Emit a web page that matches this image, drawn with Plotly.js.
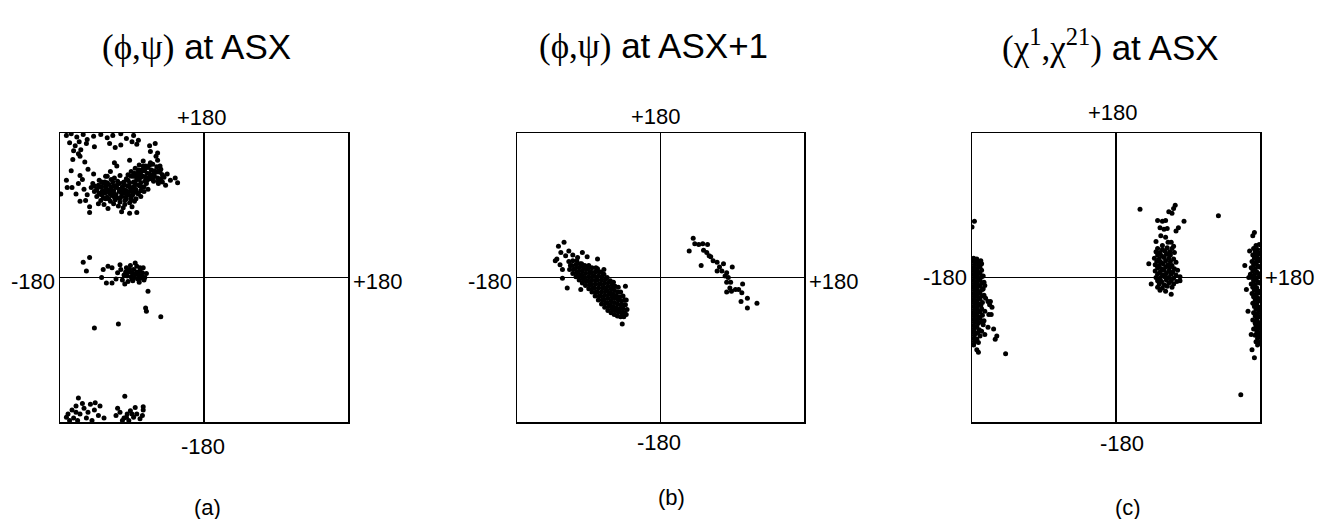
<!DOCTYPE html>
<html>
<head>
<meta charset="utf-8">
<script src="https://cdn.plot.ly/plotly-3.0.1.min.js"></script>
<style>html,body{margin:0;padding:0;background:#fff;}#chart{width:1325px;height:519px;}</style>
</head>
<body>
<div id="chart"></div>
<script>
// Panel (a): (phi, psi) at ASX
const panelA = [
[-172,177],[-166,179],[-159,175],[-151,178],[-146,172],[-138,176],[-129,178],[-121,174],[-114,177],[-104,179],[-97,173],[-88,177],[-82,171],[-84,166],
[-168,168],[-161,164],[-156,169],[-147,167],[-137,163],[-118,167],[-111,162],[-104,165],[-90,169],[-68,164],[-61,167],
[-163,158],[-157,154],[-154,159],[-67,157],[-60,151],[-58,155],
[-164,147],[-155,151],[-149,144],[-112,143],[-109,139],[-93,146],[-73,139],
[-166,133],[-155,127],[-145,135],[-138,129],[-123,126],[-117,132],[-172,121],[-179,104],[-171,112],
[-121,126],[-112,124],[-105,127],[-97,123],[-91,126],[-84,122],[-79,125],
[-131,121],[-124,119],[-116,122],[-108,120],[-101,118],[-95,121],[-88,119],[-81,122],[-74,120],[-68,123],
[-139,117],[-132,115],[-126,118],[-119,116],[-113,114],[-106,117],[-99,115],[-93,113],[-86,116],[-80,114],[-72,117],
[-141,112],[-134,110],[-128,113],[-122,111],[-116,109],[-110,112],[-103,110],[-97,108],[-91,111],[-85,109],[-78,112],[-70,110],
[-137,107],[-131,105],[-125,108],[-119,106],[-112,104],[-106,107],[-100,105],[-94,103],[-88,106],[-82,104],[-75,107],
[-134,101],[-128,103],[-121,100],[-115,102],[-109,99],[-103,101],[-97,98],[-91,100],[-85,98],[-79,101],
[-129,96],[-123,98],[-117,95],[-111,97],[-105,94],[-99,96],[-93,93],[-87,95],
[-125,91],[-113,92],[-107,89],[-99,91],
[-128,119],[-121,118],[-114,119],[-107,118],[-100,119],[-93,118],[-86,119],[-79,118],
[-137,114],[-130,113],[-123,114],[-116,113],[-109,115],[-102,113],[-95,114],[-88,113],[-82,115],[-75,113],
[-134,109],[-127,108],[-120,109],[-113,108],[-106,110],[-99,109],[-92,108],[-86,110],[-79,108],
[-131,104],[-124,105],[-117,104],[-110,103],[-103,105],[-96,104],[-89,103],[-83,105],
[-126,99],[-119,98],[-112,100],[-105,99],[-98,100],[-91,97],
[-76,145],[-67,143],[-58,146],
[-81,140],[-72,138],[-64,141],[-55,139],
[-86,136],[-78,134],[-70,137],[-62,133],[-54,135],
[-91,132],[-83,130],[-75,133],[-68,129],[-60,131],[-52,128],
[-95,128],[-88,126],[-80,128],[-73,125],[-66,127],[-58,124],[-50,125],
[-76,139],[-68,140],[-59,138],
[-82,134],[-74,135],[-66,134],[-57,133],
[-87,130],[-79,131],[-71,130],[-63,129],[-55,131],
[-84,125],[-76,126],[-69,124],[-62,126],[-54,123],
[-71,121],[-64,122],[-57,120],[-52,119],
[-63,120],[-57,117],
[-46,129],[-42,121],[-36,124],[-33,118],[-48,115],
[-150,110],[-157,117],[-146,103],[-160,104],[-152,122],[-165,112],[-148,96],
[-155,95],[-143,88],[-132,92],[-103,82],[-101,87],[-93,80],[-84,81],[-143,81],[-120,86],[-90,88],
[-151,19],[-143,25],[-147,8],[-126,10],[-120,14],[-128,0],[-122,-7],[-115,12],
[-108,6],[-104,10],[-100,3],[-97,12],[-94,7],[-91,1],[-88,10],[-86,4],[-83,-2],[-80,8],[-78,2],[-76,12],
[-102,-3],[-95,-5],[-89,-4],[-84,14],[-92,15],[-81,-6],[-110,-2],[-99,-8],[-75,-3],[-72,5],[-105,16],[-86,18],
[-96,2],[-90,6],[-82,3],[-79,-1],[-93,10],[-87,0],[-84,7],[-80,12],[-77,6],[-98,7],[-74,0],[-90,-2],
[-70,-17],[-72,-42],[-73,-38],[-54,-49],[-137,-63],[-107,-58],[-115,-7],
[-170,-170],[-165,-165],[-160,-160],[-157,-150],[-163,-175],[-155,-170],[-150,-163],[-147,-175],[-142,-158],[-137,-165],
[-130,-160],[-132,-172],[-168,-178],[-158,-178],[-152,-157],[-145,-168],[-160,-168],[-140,-178],[-136,-156],[-172,-174],[-125,-175],
[-110,-172],[-105,-168],[-100,-175],[-96,-170],[-92,-166],[-88,-174],[-84,-170],[-80,-176],[-76,-165],[-94,-178],
[-102,-178],[-86,-162],[-108,-163],[-99,-148],[-76,-161],[-77,-172],[-90,-170],[-97,-174]
];

// Panel (b): (phi, psi) at ASX+1
const panelB = [
[-128,39],[-121,44],[-115,33],[-130,23],[-132,21],[-125,31],[-98,31],[-92,26],[-79,23],[-123,10],[-123,-1],
[-117,-13],[-100,-15],[-71,10],[-44,-11],[-48,-58],[-119,27],[-126,16],[-110,28],[-104,25],
[-114,10],[-113,15],[-115,20],
[-110,5],[-109,10],[-111,15],[-110,21],
[-106,1],[-105,6],[-107,11],[-106,16],[-105,21],
[-102,-3],[-101,2],[-103,7],[-102,12],[-101,17],
[-98,-7],[-97,-2],[-99,3],[-98,8],[-97,13],[-99,17],
[-94,-10],[-93,-5],[-95,0],[-94,5],[-93,10],[-95,15],
[-90,-14],[-89,-9],[-91,-4],[-90,1],[-89,6],[-91,11],[-90,15],
[-86,-18],[-85,-13],[-87,-8],[-86,-3],[-85,2],[-87,7],[-86,12],
[-82,-23],[-81,-18],[-83,-13],[-82,-8],[-81,-3],[-83,2],[-82,7],[-81,12],
[-78,-28],[-77,-23],[-79,-18],[-78,-13],[-77,-8],[-79,-3],[-78,2],[-77,7],[-79,11],
[-74,-33],[-73,-28],[-75,-23],[-74,-18],[-73,-13],[-75,-8],[-74,-3],[-73,2],[-75,7],
[-70,-37],[-69,-32],[-71,-27],[-70,-22],[-69,-17],[-71,-12],[-70,-7],[-69,-2],[-71,4],
[-66,-41],[-65,-36],[-67,-31],[-66,-26],[-65,-21],[-67,-16],[-66,-11],[-65,-6],[-67,0],
[-62,-44],[-61,-39],[-63,-34],[-62,-29],[-61,-24],[-63,-19],[-62,-14],[-61,-9],[-63,-4],
[-58,-46],[-57,-41],[-59,-36],[-58,-31],[-57,-26],[-59,-21],[-58,-16],[-57,-11],[-59,-6],
[-54,-48],[-53,-43],[-55,-38],[-54,-33],[-53,-28],[-55,-23],[-54,-18],[-53,-12],
[-50,-49],[-49,-44],[-51,-39],[-50,-34],[-49,-29],[-51,-24],[-50,-18],
[-46,-49],[-45,-44],[-47,-39],[-46,-34],[-45,-28],[-47,-23],
[-43,-46],[-42,-40],[-44,-34],[-43,-28],
[41,49],[36,33],[43,42],[48,41],[53,42],[59,41],[54,34],[58,31],[61,27],[63,26],[66,21],[51,15],[71,19],[74,13],
[79,17],[77,8],[83,6],[90,13],[85,0],[83,-6],[88,-6],[83,-18],[89,-17],[94,-15],[98,-15],[103,-8],[102,-19],
[109,-26],[101,-30],[109,-38],[121,-32],[71,8],[81,2],[87,-13]
];

// Panel (c): (chi1, chi21) at ASX
const panelC = [
[-178,24],[-174,23],
[-178,20],[-173,19],[-169,21],
[-177,16],[-172,15],[-168,17],
[-178,12],[-174,11],[-170,13],
[-177,8],[-173,7],[-168,9],
[-178,4],[-174,3],[-170,5],[-166,2],
[-177,0],[-172,-1],[-168,1],
[-178,-4],[-174,-5],[-170,-3],[-165,-6],
[-177,-8],[-173,-9],[-168,-7],[-164,-10],
[-178,-12],[-174,-13],[-170,-11],[-166,-14],
[-177,-16],[-172,-17],[-167,-15],
[-178,-20],[-174,-21],[-170,-19],[-165,-22],
[-177,-24],[-172,-25],[-168,-23],[-163,-26],
[-178,-28],[-174,-29],[-170,-27],[-160,-30],
[-177,-32],[-172,-33],[-167,-31],[-158,-34],
[-178,-36],[-174,-37],[-169,-35],
[-177,-40],[-173,-41],[-168,-39],[-164,-42],
[-178,-44],[-174,-45],[-170,-43],[-159,-46],
[-177,-48],[-172,-49],[-167,-47],
[-178,-52],[-174,-53],[-170,-51],[-165,-54],
[-177,-56],[-172,-57],[-168,-55],
[-178,-60],[-174,-61],[-166,-59],[-160,-62],
[-177,-64],[-171,-65],
[-178,-68],[-173,-69],[-168,-67],
[-177,-72],[-170,-73],[-164,-71],
[-178,-76],[-174,-77],
[-177,-80],[-172,-81],
[-178,-84],
[-177,70],[-180,63],[-138,-95],[-172,-93],[-174,-90],[-149,-73],[-151,-77],[-153,-64],[-156,-46],[-155,-37],[-157,-30],
[74,90],[72,86],[66,82],[70,80],[30,85],[128,77],[85,70],[62,71],[58,70],[52,71],[55,62],[60,60],[64,61],[78,62],[75,58],
[56,52],[62,50],[50,45],[65,44],[69,44],[58,40],[72,39],
[52,36],[58,35],[64,37],[70,36],
[50,32],[55,31],[61,33],[67,32],[73,31],
[52,28],[57,27],[63,29],[68,28],
[48,24],[54,23],[60,25],[66,24],[72,23],
[51,20],[56,19],[62,21],[68,20],[75,19],
[49,16],[54,15],[59,17],[65,16],[70,15],
[52,12],[57,11],[62,13],[67,12],[73,11],
[49,8],[55,7],[60,9],[66,8],[71,7],[77,9],
[52,4],[58,3],[63,5],[69,4],[75,3],
[50,0],[55,-1],[61,1],[66,0],[72,-1],[80,1],
[52,-4],[57,-5],[63,-3],[69,-4],[76,-5],
[54,-8],[60,-9],[66,-7],[72,-8],
[52,-12],[58,-13],[64,-11],[70,-12],
[55,-16],[62,-17],
[69,-21],
[41,17],[44,-8],[80,-4],
[173,56],[171,52],[167,33],[161,15],[166,0],[163,-15],[165,-42],[169,-71],[170,-90],[173,-100],[156,-146],
[175,40],[179,41],
[172,36],[177,35],
[174,32],[178,31],
[171,28],[176,27],[180,29],
[173,24],[178,23],
[170,20],[175,19],[179,21],
[172,16],[177,15],
[169,12],[174,11],[179,13],
[171,8],[176,7],
[168,4],[173,3],[178,5],
[170,0],[175,-1],[179,1],
[172,-4],[177,-5],
[169,-8],[174,-9],[179,-7],
[171,-12],[176,-13],
[173,-16],[178,-17],
[170,-20],[175,-21],[179,-19],
[172,-24],[177,-25],
[174,-28],[179,-29],
[171,-32],[176,-33],
[173,-36],[178,-37],
[175,-40],[179,-41],
[172,-44],[177,-45],
[174,-48],[179,-49],
[176,-52],[171,-53],
[178,-56],[174,-57],
[175,-60],[179,-61],
[172,-64],[177,-65],
[176,-68],[179,-69],
[174,-72],[178,-73],
[177,-76],
[175,-80],[179,-81],
[177,-84]
];

const panelTitles = [
  '<span style="font-family:\'Liberation Serif\',serif">(ϕ,ψ)</span> at ASX',
  '<span style="font-family:\'Liberation Serif\',serif">(ϕ,ψ)</span> at ASX+1',
  '<span style="font-family:\'Liberation Serif\',serif">(χ<sup>1</sup>,χ<sup>21</sup>)</span> at ASX'
];
const panelLetters = ['(a)', '(b)', '(c)'];
const topLabel = '+180', bottomLabel = '-180', leftLabel = '-180', rightLabel = '+180';

const W = 1325, H = 519;
const boxes = [ {l:60, r:348}, {l:517, r:804}, {l:972, r:1260} ];
const boxTop = 133, boxBot = 422;
const px = v => v / W, py = v => (H - v) / H;

const panels = [panelA, panelB, panelC];
const data = panels.map((pts, i) => ({
  type: 'scatter', mode: 'markers',
  x: pts.map(p => p[0]), y: pts.map(p => p[1]),
  xaxis: i === 0 ? 'x' : 'x' + (i + 1),
  yaxis: i === 0 ? 'y' : 'y' + (i + 1),
  marker: {color: '#000', size: 5},
  hoverinfo: 'skip', showlegend: false
}));

const layout = {
  width: W, height: H,
  margin: {l: 0, r: 0, t: 0, b: 0},
  paper_bgcolor: '#fff', plot_bgcolor: '#fff',
  font: {family: 'Liberation Sans, Arial, sans-serif', color: '#000'},
  showlegend: false,
  annotations: []
};

const axBase = {
  range: [-180, 180], showticklabels: false, ticks: '', showgrid: false,
  zeroline: true, zerolinecolor: '#000', zerolinewidth: 1.2,
  showline: true, mirror: true, linecolor: '#000', linewidth: 1.5, fixedrange: true
};

const titleX = [100, 537, 1000];
const titleY = [47, 46, 45];
const topPos = [[202,117],[656,116],[1113,113]];
const botPos = [[203,446],[659,442],[1122,443]];
const letterPos = [[207,507],[672,497],[1128,507]];
const sideY = [281, 281, 277];

boxes.forEach((b, i) => {
  const sfx = i === 0 ? '' : String(i + 1);
  layout['xaxis' + sfx] = Object.assign({}, axBase, {domain: [px(b.l), px(b.r)], anchor: 'y' + sfx});
  layout['yaxis' + sfx] = Object.assign({}, axBase, {domain: [py(boxBot), py(boxTop)], anchor: 'x' + sfx});
  const A = layout.annotations;
  A.push({xref:'paper', yref:'paper', x: px(titleX[i]), y: py(titleY[i]), text: panelTitles[i], showarrow:false, xanchor:'left', yanchor:'middle', font:{size:35}});
  A.push({xref:'paper', yref:'paper', x: px(topPos[i][0]), y: py(topPos[i][1]), text: topLabel, showarrow:false, xanchor:'center', yanchor:'middle', font:{size:22}});
  A.push({xref:'paper', yref:'paper', x: px(botPos[i][0]), y: py(botPos[i][1]), text: bottomLabel, showarrow:false, xanchor:'center', yanchor:'middle', font:{size:22}});
  A.push({xref:'paper', yref:'paper', x: px(b.l - 3), y: py(sideY[i]), text: leftLabel, showarrow:false, xanchor:'right', yanchor:'middle', font:{size:22}});
  A.push({xref:'paper', yref:'paper', x: px(b.r + 3), y: py(sideY[i]), text: rightLabel, showarrow:false, xanchor:'left', yanchor:'middle', font:{size:22}});
  A.push({xref:'paper', yref:'paper', x: px(letterPos[i][0]), y: py(letterPos[i][1]), text: panelLetters[i], showarrow:false, xanchor:'center', yanchor:'middle', font:{size:22}});
});

Plotly.newPlot('chart', data, layout, {displayModeBar: false, staticPlot: true});
</script>
</body>
</html>
